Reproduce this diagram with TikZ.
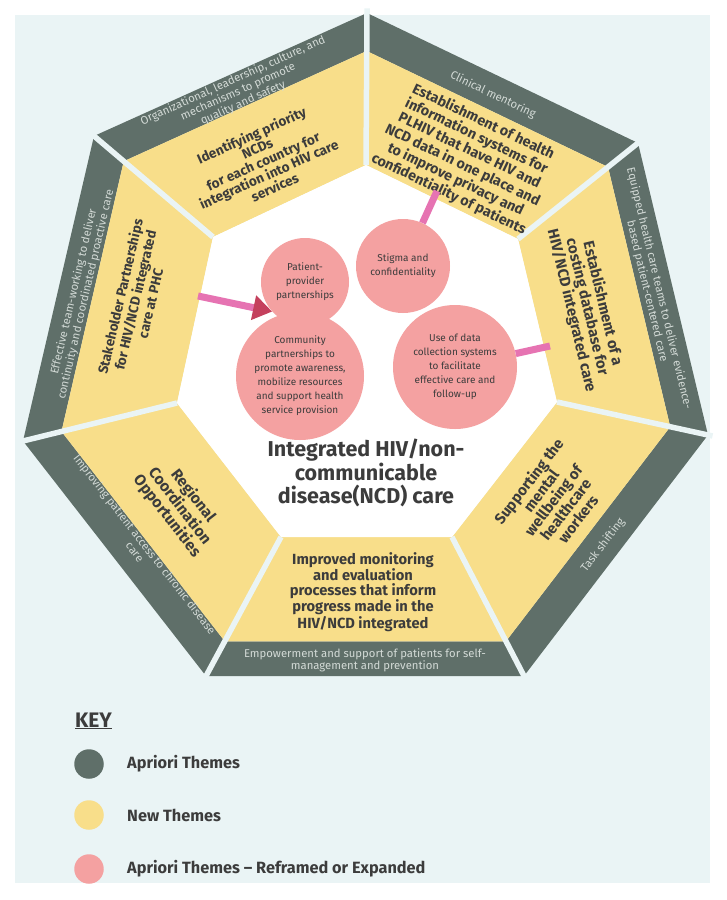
\documentclass[tikz,border=0pt]{standalone}
\usepackage{fontspec}
\setmainfont{Fira Sans}
\usetikzlibrary{calc,arrows.meta}
\definecolor{bgc}{HTML}{EAF4F5}
\definecolor{darkband}{HTML}{5F6F69}
\definecolor{yel}{HTML}{F8DE8A}
\definecolor{pinkc}{HTML}{F4A1A1}
\definecolor{txtd}{HTML}{3C3C3C}
\definecolor{bandtxt}{HTML}{D3DAD6}
\definecolor{pinkline}{HTML}{E673B2}
\definecolor{crimson}{HTML}{C4405D}
\tikzset{
  bandtext/.style={text=bandtxt, font=\fontsize{11.3}{12.3}\selectfont, align=center, inner sep=0},
  yeltext/.style={text=txtd, align=center, inner sep=0},
  yfont/.style 2 args={font=\bfseries\fontsize{#1}{#2}\selectfont},
  circtext/.style={circle, fill=pinkc, text=txtd, font=\fontsize{10}{14}\selectfont, align=center, inner sep=0},
  conn/.style={pinkline, line width=7pt},
  keydot/.style={circle, minimum size=29.5pt, inner sep=0},
  keytext/.style={text=txtd, font=\bfseries\fontsize{16.3}{19}\selectfont, anchor=west, inner sep=0}
}
\begin{document}
\begin{tikzpicture}[x=1pt,y=-1pt]
\useasboundingbox (0,0) rectangle (726,900);
\fill[bgc] (15,15) rectangle (710,883);
% outer vertices
\coordinate (V0) at (367,13);
\coordinate (V1) at (638,143);
\coordinate (V2) at (708,435);
\coordinate (V3) at (524,676);
\coordinate (V4) at (206,676);
\coordinate (V5) at (23,441);
\coordinate (V6) at (94,136);
% inner vertices
\coordinate (I0) at (366,165);
\coordinate (I1) at (518,239);
\coordinate (I2) at (557,402);
\coordinate (I3) at (452,537);
\coordinate (I4) at (281,537);
\coordinate (I5) at (177,403);
\coordinate (I6) at (213,237);
\foreach \i in {0,...,6} {\coordinate (B\i) at ($(V\i)!0.25!(I\i)$);}
% segments
\foreach \i/\j in {0/1,1/2,2/3,3/4,4/5,5/6,6/0} {
  \fill[darkband] (V\i)--(V\j)--(B\j)--(B\i)--cycle;
  \fill[yel] (B\i)--(B\j)--(I\j)--(I\i)--cycle;
}
\fill[white] (I0)--(I1)--(I2)--(I3)--(I4)--(I5)--(I6)--cycle;
\foreach \i in {0,...,6} {\draw[bgc, line width=5.5pt] ($(V\i)!-0.03!(I\i)$)--(I\i);}

% band texts
\node[bandtext, rotate=24.25] (tA) at (238,92) {Organizational, leadership, culture, and\\mechanisms to promote\\quality and safety};
\node[bandtext, rotate=-25.6] (tB) at (493,95) {Clinical mentoring};
\node[bandtext, rotate=-76.5] (tC) at (653,290) {Equipped health care teams to deliver evidence-\\based patient-centered care};
\node[bandtext, rotate=52.6] (tD) at (603,545) {Task shifting};
\node[bandtext] (tE) at (365,660) {Empowerment and support of patients for self-\\management and prevention};
\node[bandtext, rotate=-52.1] (tF) at (140,548) {Improving patient access to chronic disease\\care};
\node[bandtext, rotate=76.9] (tG) at (80,293) {Effective team-working to deliver\\continuity and coordinated proactive care};

% yellow texts
\node[yeltext, yfont={13.6}{14.2}, rotate=24.25] (yA) at (263,161) {Identifying priority\\NCDs\\for each country for\\integration into HIV care\\services};
\node[yeltext, yfont={14.3}{16}, rotate=-25.6] (yB) at (466,158) {Establishment of health\\information systems for\\PLHIV that have HIV and\\NCD data in one place and\\to improve privacy and\\confidentiality of patients};
\node[yeltext, yfont={15}{16}, rotate=-76.5] (yC) at (587,307) {Establishment of a\\costing database for\\HIV/NCD integrated care};
\node[yeltext, yfont={15}{15.5}, rotate=52.6] (yD) at (553,500) {Supporting the\\mental\\wellbeing of\\healthcare\\workers};
\node[yeltext, yfont={14.7}{14.8}] (yE) at (363,592) {Improved monitoring\\and evaluation\\processes that inform\\progress made in the\\HIV/NCD integrated};
\node[yeltext, yfont={15.5}{16}, rotate=-52.1] (yF) at (180,506) {Regional\\Coordination\\Opportunities};
\node[yeltext, yfont={13.6}{15.5}, rotate=76.9] (yG) at (135,300) {Stakeholder Partnerships\\for HIV/NCD integrated\\care at PHC};

% pink circles
\node[circtext, minimum size=88pt] (pp) at (305,282) {Patient-\\provider\\partnerships};
\node[circtext, minimum size=128pt] (cp) at (300,376) {Community\\partnerships to\\promote awareness,\\mobilize resources\\and support health\\service provision};
\node[circtext, minimum size=94pt] (st) at (403,266) {Stigma and\\confidentiality};
\node[circtext, minimum size=124pt] (dc) at (455,367) {Use of data\\collection systems\\to facilitate\\effective care and\\follow-up};

% connectors
\coordinate (topL) at (437,191);
\coordinate (arrL) at (198,296);
\coordinate (rgtR) at (550,346);
\draw[conn] (topL) -- (st);
\draw[conn] (rgtR) -- (dc);
\draw[conn, -{Triangle[length=19pt, width=24pt, color=crimson]}] (arrL) -- (pp.222);

% title
\node[text=txtd, font=\bfseries\fontsize{21.5}{23.8}\selectfont, align=center] (title) at (366,473) {Integrated HIV/non-\\communicable\\disease(NCD) care};

% key
\node[text=txtd, font=\bfseries\fontsize{21}{24}\selectfont, anchor=west, inner sep=0] (key) at (75,721) {\underline{KEY}};
\node[keydot, fill=darkband] (k1) at (89,764) {};
\node[keydot, fill=yel] (k2) at (89,815) {};
\node[keydot, fill=pinkc] (k3) at (89,869) {};
\node[keytext] (l1) at (127,764) {Apriori Themes};
\node[keytext] (l2) at (127,815) {New Themes};
\node[keytext] (l3) at (127,869) {Apriori Themes – Reframed or Expanded};
\end{tikzpicture}
\end{document}
